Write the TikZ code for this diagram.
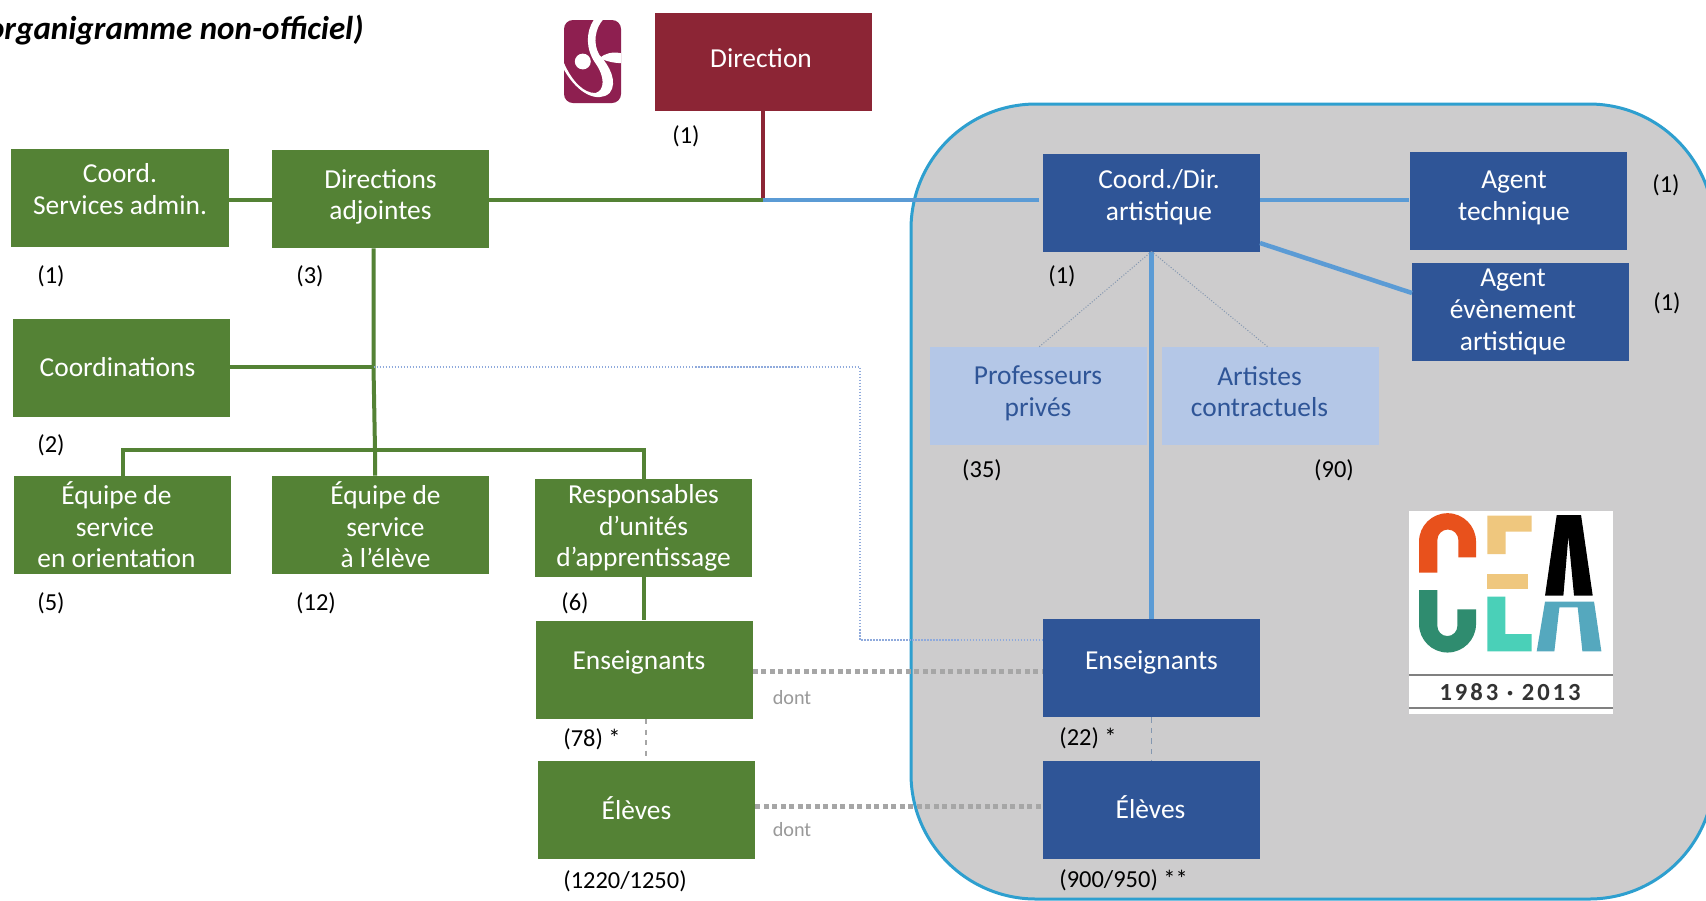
\documentclass[tikz,border=0pt]{standalone}
\usepackage{fontspec}
\setmainfont{Carlito}
\usepackage{tikz}
\definecolor{greenfill}{HTML}{548235}
\definecolor{bluefill}{HTML}{2F5597}
\definecolor{redfill}{HTML}{8C2535}
\definecolor{palefill}{HTML}{B4C7E7}
\definecolor{paletext}{HTML}{2F5597}
\definecolor{linkblue}{HTML}{5B9BD5}
\definecolor{thinblue}{HTML}{8FAADC}
\definecolor{thingray}{HTML}{8497B0}
\definecolor{dotgray}{HTML}{A6A6A6}
\definecolor{areagray}{HTML}{CDCCCD}
\definecolor{areaedge}{HTML}{2E9FCF}
\definecolor{logored}{HTML}{8E1F50}
\definecolor{ceorange}{HTML}{E8511C}
\definecolor{cegreen}{HTML}{2F8C6F}
\definecolor{cetan}{HTML}{EFC77E}
\definecolor{ceaqua}{HTML}{4AD0B8}
\definecolor{ceblue}{HTML}{55A8BE}

\begin{document}
\begin{tikzpicture}
	\tikzstyle{box} = [rectangle, inner sep=0pt, minimum width=4.34cm, minimum height=1.96cm, align=center, font=\fontsize{15.6}{18}\selectfont]
	\tikzstyle{greenbox} = [box, fill=greenfill, text=white]
	\tikzstyle{bluebox} = [box, fill=bluefill, text=white]
	\tikzstyle{redbox} = [box, fill=redfill, text=white]
	\tikzstyle{palebox} = [box, fill=palefill, text=paletext]
	\tikzstyle{count} = [inner sep=0pt, font=\fontsize{13.9}{16}\selectfont]
	\tikzstyle{dontlabel} = [inner sep=0pt, text=gray!80, font=\fontsize{11.5}{14}\selectfont]
	\tikzstyle{greenlink} = [draw=greenfill, line width=0.08cm]
	\tikzstyle{bluelink} = [draw=linkblue, line width=0.09cm]
	\tikzstyle{thinlink} = [draw=thinblue, line width=0.025cm, densely dotted]
	\tikzstyle{slimlink} = [draw=thingray, line width=0.02cm, densely dotted]
	\tikzstyle{dashlink} = [draw=dotgray, line width=0.03cm, dashed]
	\tikzstyle{dotlink} = [draw=dotgray, line width=0.1cm, dash pattern=on 0.1cm off 0.07cm]

	\useasboundingbox (0, 0) rectangle (34.12, -18.00);
	\fill [white] (0, 0) rectangle (34.12, -18.00);

	% zone artistique
	\draw [fill=areagray, draw=areaedge, line width=0.06cm, rounded corners=2.5cm] (18.22, -2.08) rectangle (34.28, -17.98);

	\node (titre) [inner sep=0pt, anchor=east, font=\fontsize{18.8}{20}\selectfont\bfseries\itshape] at (7.28, -0.60) {(organigramme non-officiel)};

	\node (direction) [redbox] at (15.26, -1.24) {\hspace*{-0.08cm}\raisebox{0.14cm}{Direction}};
	\node (coordadm) [greenbox, text depth=0.34cm] at (2.40, -3.95) {Coord.\\Services admin.};
	\node (diradj) [greenbox, text depth=0.18cm] at (7.61, -3.98) {Directions\\adjointes};
	\node (coordin) [greenbox] at (2.43, -7.35) {\hspace*{-0.16cm}Coordinations};
	\node (equipeor) [greenbox] at (2.44, -10.50) {\hspace*{-0.22cm}Équipe de\\\hspace*{-0.28cm}service\\\hspace*{-0.22cm}en orientation};
	\node (equipeel) [greenbox] at (7.61, -10.50) {\hspace*{0.2cm}Équipe de\\\hspace*{0.2cm}service\\\hspace*{0.2cm}à l’élève};
	\node (resp) [greenbox] at (12.87, -10.56) {Responsables\\d’unités\\d’apprentissage};
	\node (ensg) [greenbox] at (12.88, -13.39) {\hspace*{-0.2cm}\raisebox{0.36cm}{Enseignants}};
	\node (elevg) [greenbox] at (12.93, -16.20) {\hspace*{-0.4cm}\raisebox{0.08cm}{Élèves}};

	\node (coorddir) [bluebox, text depth=0.30cm] at (23.03, -4.05) {\hspace*{0.3cm}Coord./Dir.\\\hspace*{0.3cm}artistique};
	\node (agtech) [bluebox, text depth=0.22cm] at (30.36, -4.02) {\hspace*{-0.16cm}Agent\\\hspace*{-0.16cm}technique};
	\node (agevt) [bluebox] at (30.41, -6.24) {\hspace*{-0.3cm}Agent\\\hspace*{-0.3cm}évènement\\\hspace*{-0.3cm}artistique};
	\node (prof) [palebox, text depth=0.18cm] at (20.76, -7.91) {Professeurs\\privés};
	\node (art) [palebox, text depth=0.16cm] at (25.41, -7.91) {\hspace*{-0.44cm}Artistes\\\hspace*{-0.44cm}contractuels};
	\node (ensb) [bluebox] at (23.03, -13.36) {\raisebox{0.3cm}{Enseignants}};
	\node (elevb) [bluebox] at (23.03, -16.20) {\hspace*{-0.04cm}\raisebox{0.12cm}{Élèves}};

	\coordinate (junc) at (15.26, -4.00);
	\coordinate (trunkc) at (7.47, -7.34);
	\coordinate (trunkb) at (7.50, -9.00);
	\coordinate (barl) at (2.46, -9.00);
	\coordinate (barr) at (12.88, -9.00);
	\coordinate (elbowa) at (17.20, -7.34);
	\coordinate (elbowb) at (17.20, -12.80);
	\coordinate (coordend) at (20.78, -4.00);
	\coordinate (coordfoot) at (23.03, -5.03);
	\coordinate (evtstart) at (25.20, -4.86);
	\coordinate (evtend) at (28.24, -5.86);

	\draw [draw=redfill, line width=0.09cm] (direction.south) -- (junc);
	\draw [greenlink, line width=0.09cm] (diradj.east |- junc) -- (junc);
	\draw [bluelink] (junc) -- (coordend);
	\draw [greenlink, line width=0.09cm] (coordadm.east |- junc) -- (diradj.west |- junc);
	\draw [bluelink] (coorddir.east |- junc) -- (agtech.west |- junc);
	\draw [bluelink] (evtstart) -- (evtend);
	\draw [bluelink] (coordfoot) -- (ensb.north);
	\draw [slimlink] (coordfoot) -- (20.78, -6.94);
	\draw [slimlink] (coordfoot) -- (25.36, -6.94);

	\draw [greenlink] (diradj.south -| trunkc) -- (trunkc) -- (trunkb) -- (trunkb |- equipeel.north);
	\draw [greenlink, line width=0.09cm] (coordin.east |- trunkc) -- (trunkc);
	\draw [greenlink] (barl |- equipeor.north) -- (barl) -- (barr) -- (barr |- resp.north);
	\draw [greenlink] (barr |- resp.south) -- (barr |- ensg.north);

	\draw [thinlink] (trunkc) -- (elbowa) -- (elbowb) -- (ensb.west |- elbowb);
	\draw [dotlink] (ensg.east |- 0, -13.42) -- (ensb.west |- 0, -13.42);
	\draw [dotlink] (elevg.east |- 0, -16.12) -- (elevb.west |- 0, -16.12);
	\draw [dashlink] (12.92, -14.38) -- (12.92, -15.22);
	\draw [dashlink, draw=thingray] (ensb.south) -- (elevb.north);

	\node (dontens) [dontlabel] at (15.84, -13.96) {dont};
	\node (dontelv) [dontlabel] at (15.84, -16.60) {dont};

	\node (ndir) [count] at (13.72, -2.72) {(1)};
	\node (nadm) [count] at (1.02, -5.52) {(1)};
	\node (nadj) [count] at (6.20, -5.52) {(3)};
	\node (ncoo) [count] at (1.02, -8.90) {(2)};
	\node (nori) [count] at (1.02, -12.06) {(5)};
	\node (nele) [count] at (6.32, -12.06) {(12)};
	\node (nres) [count] at (11.50, -12.06) {(6)};
	\node (nensg) [count, anchor=west] at (11.26, -14.79) {(78) *};
	\node (nelvg) [count, anchor=west] at (11.26, -17.62) {(1220/1250)};
	\node (nensb) [count, anchor=west] at (21.18, -14.77) {(22) *};
	\node (nelvb) [count, anchor=west] at (21.18, -17.60) {(900/950) **};
	\node (ncd) [count] at (21.24, -5.52) {(1)};
	\node (nprof) [count] at (19.64, -9.40) {(35)};
	\node (nart) [count] at (26.68, -9.40) {(90)};
	\node (ntech) [count] at (33.32, -3.70) {(1)};
	\node (nevt) [count] at (33.34, -6.06) {(1)};

	% logo direction
	\begin{scope}[shift={(11.28, -0.40)}, x=1.14cm, y=-1.66cm]
		\fill [logored, rounded corners=0.18cm] (0, 0) rectangle (1, 1);
		\fill [white] (0.33, 0.50) circle [x radius=0.14, y radius=0.095];
		\fill [white] (0, 0.60) .. controls (0.25, 0.90) and (0.60, 1.00) .. (0.80, 0.88) .. controls (0.95, 0.75) and (0.80, 0.55) .. (0.62, 0.42) .. controls (0.50, 0.28) and (0.55, 0.10) .. (0.68, 0) -- (0.52, 0) .. controls (0.38, 0.15) and (0.38, 0.35) .. (0.55, 0.52) .. controls (0.72, 0.68) and (0.72, 0.85) .. (0.55, 0.88) .. controls (0.35, 0.88) and (0.15, 0.75) .. (0, 0.52) -- cycle;
		\fill [white] (1, 0.40) .. controls (0.85, 0.38) and (0.72, 0.40) .. (0.62, 0.46) .. controls (0.75, 0.50) and (0.90, 0.52) .. (1, 0.52) -- cycle;
	\end{scope}

	% logo anniversaire
	\begin{scope}[shift={(27.00, -9.60)}, x=0.00667cm, y=-0.00667cm]
		\fill [white] (178, 92) rectangle (789, 702);
		\fill [ceorange] (207, 278) -- (207, 185) arc [start angle=180, end angle=360, radius=85.5] -- (378, 232) -- (325, 232) -- (325, 180) arc [start angle=360, end angle=180, radius=31.5] -- (262, 278) -- cycle;
		\fill [cegreen] (207, 330) -- (207, 432) arc [start angle=180, end angle=0, radius=85.5] -- (378, 388) -- (322, 388) -- (322, 438) arc [start angle=0, end angle=180, radius=30] -- (262, 330) -- cycle;
		\fill [cetan] (412, 107) -- (545, 107) -- (545, 155) -- (467, 155) -- (467, 222) -- (412, 222) -- cycle;
		\fill [cetan] (412, 282) rectangle (535, 327);
		\fill [ceaqua] (412, 350) -- (466, 350) -- (466, 462) -- (545, 462) -- (545, 514) -- (412, 514) -- cycle;
		\fill [black] (585, 347) -- (620, 105) -- (693, 105) -- (728, 347) -- (672, 347) -- (655, 170) -- (640, 347) -- cycle;
		\fill [ceblue] (560, 514) -- (585, 365) -- (732, 365) -- (754, 514) -- (697, 514) -- (683, 382) -- (628, 382) -- (613, 514) -- cycle;
		\fill [gray] (178, 582) rectangle (789, 588);
		\fill [gray] (178, 682) rectangle (789, 688);
		\node (annees) [inner sep=0pt, text=black!80, font=\fontsize{14}{18}\selectfont\bfseries\addfontfeature{LetterSpace=12}] at (480, 635) {1983 · 2013};
	\end{scope}
\end{tikzpicture}
\end{document}
